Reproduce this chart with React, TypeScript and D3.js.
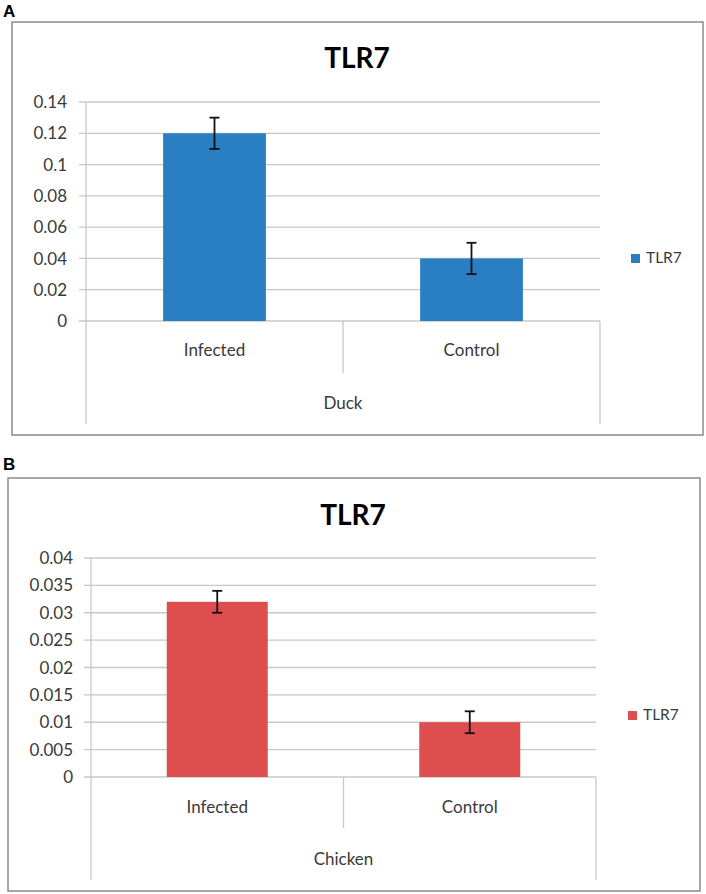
import { useRef, useEffect } from 'react';
import * as d3 from 'd3';

// chart values
const categories = ['Infected', 'Control'];
const duckValues = [0.12, 0.04];
const duckErrors = [0.01, 0.01];
const duckTicks = [0, 0.02, 0.04, 0.06, 0.08, 0.1, 0.12, 0.14];
const chickenValues = [0.032, 0.01];
const chickenErrors = [0.002, 0.002];
const chickenTicks = [0, 0.005, 0.01, 0.015, 0.02, 0.025, 0.03, 0.035, 0.04];
const seriesName = 'TLR7';

const FONT = 'Lato, "Open Sans", sans-serif';
const GRID = '#c8c8c8';
const TEXT = '#3a3a3a';

interface PanelLayout {
  frame: [number, number, number, number];
  tag: string;
  tagY: number;
  titleX: number;
  titleY: number;
  left: number;
  right: number;
  top: number;
  bottom: number;
  tickX: number;
  catY: number;
  groupY: number;
  groupBottom: number;
  midBottom: number;
  legendX: number;
  legendY: number;
}

function drawPanel(
  root: d3.Selection<SVGSVGElement, unknown, null, undefined>,
  lay: PanelLayout,
  values: number[],
  errors: number[],
  ticks: number[],
  group: string,
  color: string
) {
  const g = root.append('g');

  // panel letter
  g.append('text')
    .attr('x', 3)
    .attr('y', lay.tagY)
    .attr('font-family', 'Arial, "Liberation Sans", sans-serif')
    .attr('font-weight', 'bold')
    .attr('font-size', 17)
    .text(lay.tag);

  // outer frame
  const [fx, fy, fw, fh] = lay.frame;
  g.append('rect')
    .attr('x', fx)
    .attr('y', fy)
    .attr('width', fw)
    .attr('height', fh)
    .attr('fill', '#fff')
    .attr('stroke', '#8a8a8a')
    .attr('stroke-width', 1.5);

  // title
  g.append('text')
    .attr('x', lay.titleX)
    .attr('y', lay.titleY)
    .attr('text-anchor', 'middle')
    .attr('font-family', FONT)
    .attr('font-weight', 'bold')
    .attr('font-size', 28)
    .text(seriesName);

  const y = d3
    .scaleLinear()
    .domain([0, ticks[ticks.length - 1]])
    .range([lay.bottom, lay.top]);

  const x = d3
    .scaleBand<string>()
    .domain(categories)
    .range([lay.left, lay.right])
    .paddingInner(0.6)
    .paddingOuter(0.3);

  const xGroup = d3
    .scaleBand<string>()
    .domain(categories)
    .range([lay.left, lay.right]);

  // grid lines + y labels
  g.selectAll('.grid')
    .data(ticks)
    .enter()
    .append('line')
    .attr('x1', lay.left - 7)
    .attr('x2', lay.right)
    .attr('y1', (d) => y(d))
    .attr('y2', (d) => y(d))
    .attr('stroke', GRID)
    .attr('stroke-width', 1.3);

  g.selectAll('.ylab')
    .data(ticks)
    .enter()
    .append('text')
    .attr('x', lay.tickX)
    .attr('y', (d) => y(d))
    .attr('dy', '0.36em')
    .attr('text-anchor', 'end')
    .attr('font-family', FONT)
    .attr('font-size', 17)
    .attr('fill', TEXT)
    .text((d) => String(+d.toFixed(3)));

  // category axis lines (left axis runs full height, others hang below zero)
  const vlines: [number, number][] = [
    [lay.left, lay.groupBottom],
    [xGroup(categories[1]) as number, lay.midBottom],
    [lay.right, lay.groupBottom],
  ];
  g.selectAll('.vline')
    .data(vlines)
    .enter()
    .append('line')
    .attr('x1', (d) => d[0])
    .attr('x2', (d) => d[0])
    .attr('y1', (_, i) => (i === 0 ? lay.top : lay.bottom))
    .attr('y2', (d) => d[1])
    .attr('stroke', GRID)
    .attr('stroke-width', 1.3);

  // bars
  g.selectAll('.bar')
    .data(values)
    .enter()
    .append('rect')
    .attr('x', (_, i) => x(categories[i]) as number)
    .attr('width', x.bandwidth())
    .attr('y', (d) => y(d))
    .attr('height', (d) => lay.bottom - y(d))
    .attr('fill', color);

  // error bars
  const eb = g
    .selectAll('.err')
    .data(values)
    .enter()
    .append('g')
    .attr('stroke', '#111')
    .attr('stroke-width', 1.8);
  const cx = (i: number) => (x(categories[i]) as number) + x.bandwidth() / 2;
  eb.append('line')
    .attr('x1', (_, i) => cx(i))
    .attr('x2', (_, i) => cx(i))
    .attr('y1', (d, i) => y(d + errors[i]))
    .attr('y2', (d, i) => y(d - errors[i]));
  eb.append('line')
    .attr('x1', (_, i) => cx(i) - 5)
    .attr('x2', (_, i) => cx(i) + 5)
    .attr('y1', (d, i) => y(d + errors[i]))
    .attr('y2', (d, i) => y(d + errors[i]));
  eb.append('line')
    .attr('x1', (_, i) => cx(i) - 5)
    .attr('x2', (_, i) => cx(i) + 5)
    .attr('y1', (d, i) => y(d - errors[i]))
    .attr('y2', (d, i) => y(d - errors[i]));

  // category labels
  g.selectAll('.cat')
    .data(categories)
    .enter()
    .append('text')
    .attr('x', (d) => (xGroup(d) as number) + xGroup.bandwidth() / 2)
    .attr('y', lay.catY)
    .attr('text-anchor', 'middle')
    .attr('font-family', FONT)
    .attr('font-size', 17)
    .attr('fill', TEXT)
    .text((d) => d);

  g.append('text')
    .attr('x', (lay.left + lay.right) / 2)
    .attr('y', lay.groupY)
    .attr('text-anchor', 'middle')
    .attr('font-family', FONT)
    .attr('font-size', 17)
    .attr('fill', TEXT)
    .text(group);

  // legend
  g.append('rect')
    .attr('x', lay.legendX)
    .attr('y', lay.legendY - 9)
    .attr('width', 9)
    .attr('height', 9)
    .attr('fill', color);
  g.append('text')
    .attr('x', lay.legendX + 15)
    .attr('y', lay.legendY)
    .attr('font-family', FONT)
    .attr('font-size', 15.5)
    .attr('fill', TEXT)
    .text(seriesName);
}

const layoutA: PanelLayout = {
  frame: [12, 22, 691, 413],
  tag: 'A',
  tagY: 17,
  titleX: 357,
  titleY: 68,
  left: 86,
  right: 600,
  top: 102,
  bottom: 321,
  tickX: 67,
  catY: 356,
  groupY: 409,
  groupBottom: 424,
  midBottom: 373,
  legendX: 631,
  legendY: 263,
};

const layoutB: PanelLayout = {
  frame: [8, 478, 692, 413],
  tag: 'B',
  tagY: 470,
  titleX: 353,
  titleY: 525,
  left: 91,
  right: 596,
  top: 558,
  bottom: 777,
  tickX: 73,
  catY: 813,
  groupY: 865,
  groupBottom: 880,
  midBottom: 828,
  legendX: 628,
  legendY: 720,
};

export default function App() {
  const svgRef = useRef<SVGSVGElement>(null);

  useEffect(() => {
    if (!svgRef.current) return;
    const svg = d3.select(svgRef.current);
    svg.selectAll('*').remove();
    drawPanel(svg, layoutA, duckValues, duckErrors, duckTicks, 'Duck', '#2a7fc2');
    drawPanel(svg, layoutB, chickenValues, chickenErrors, chickenTicks, 'Chicken', '#df4e4e');
  }, []);

  return (
    <svg
      ref={svgRef}
      width={706}
      height={894}
      style={{ position: 'absolute', left: 0, top: 0, background: '#fff' }}
    />
  );
}
